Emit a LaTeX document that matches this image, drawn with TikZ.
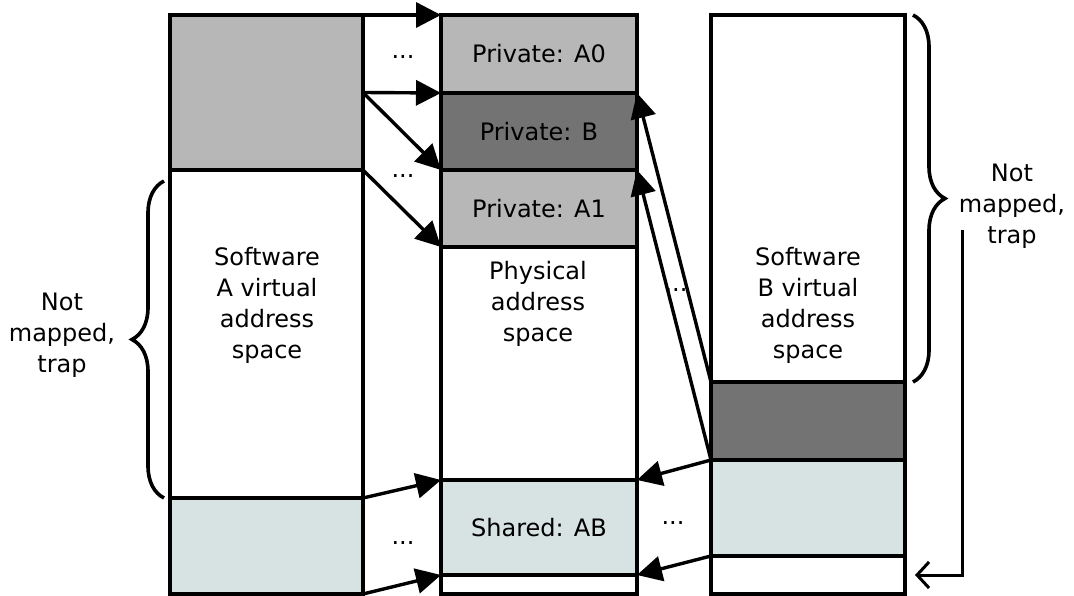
\documentclass[tikz,border=0pt]{standalone}
\usepackage{fontspec}
\setmainfont{DejaVu Sans}
\usepackage{tikz}
\usetikzlibrary{arrows.meta,decorations.pathreplacing}
\definecolor{LG}{RGB}{183, 183, 183}
\definecolor{DG}{RGB}{115, 115, 115}
\definecolor{SB}{RGB}{215, 227, 227}

\begin{document}
\begin{tikzpicture}[x=1pt, y=-1pt, line width=3.4pt,
    blk/.style={draw, rectangle, anchor=north west, inner sep=0pt, outer sep=0pt},
    colA/.style={blk, minimum width=193pt},
    colP/.style={blk, minimum width=196pt},
    colB/.style={blk, minimum width=194pt},
    lbl/.style={align=center, font=\fontsize{24}{31}\selectfont},
    arr/.style={-{Triangle[length=25pt, width=25pt]}},
    curly/.style={decorate, decoration={brace, amplitude=32pt}, line width=3.6pt},
    trap/.style={-{Straight Barb[length=12pt, width=26pt]}, line width=3pt}]
	\useasboundingbox (0,0) rectangle (1074,596);

	%Espacio virtual A
	\node[colA, fill=LG, minimum height=155pt] (agray) at (170,15) {};
	\node[colA, minimum height=328pt] (avirt) at (170,170) {};
	\node[colA, fill=SB, minimum height=96pt] (ashared) at (170,498) {};
	\node[lbl] (atext) at (267,305) {Software\\A virtual\\address\\space};

	%Espacio fisico
	\node[colP, fill=LG, minimum height=78pt] (pa0) at (441,15) {};
	\node[colP, fill=DG, minimum height=77pt] (pb) at (441,93) {};
	\node[colP, fill=LG, minimum height=77pt] (pa1) at (441,170) {};
	\node[colP, minimum height=233pt] (pphys) at (441,247) {};
	\node[colP, fill=SB, minimum height=95pt] (pshared) at (441,480) {};
	\node[colP, minimum height=19pt] (pfree) at (441,575) {};
	\node[lbl] at (pa0.center) {Private: A0};
	\node[lbl] at (pb.center) {Private: B};
	\node[lbl] at (pa1.center) {Private: A1};
	\node[lbl] at (pshared.center) {Shared: AB};
	\node[lbl] (ptext) at (538,304) {Physical\\address\\space};

	%Espacio virtual B
	\node[colB, minimum height=367pt] (bvirt) at (711,15) {};
	\node[colB, fill=DG, minimum height=78pt] (bpriv) at (711,382) {};
	\node[colB, fill=SB, minimum height=96pt] (bshared) at (711,460) {};
	\node[colB, minimum height=38pt] (bfree) at (711,556) {};
	\node[lbl] (btext) at (808,305) {Software\\B virtual\\address\\space};

	%Flechas de A
	\draw[arr] (agray.north east) -- (pa0.north west);
	\draw[arr] (agray.east) -- (pb.north west);
	\draw[arr] (agray.east) -- (pa1.north west);
	\draw[arr] (agray.south east) -- (pphys.north west);
	\draw[arr] (ashared.north east) -- (pshared.north west);
	\draw[arr] (ashared.south east) -- (pfree.north west);

	%Flechas de B
	\draw[arr] (bpriv.north west) -- (pb.north east);
	\draw[arr] (bpriv.south west) -- (pa1.north east);
	\draw[arr] (bshared.north west) -- (pshared.north east);
	\draw[arr] (bshared.south west) -- (pfree.north east);

	%Puntos
	\node[lbl] (d1) at (403,57) {...};
	\node[lbl] (d2) at (403,176) {...};
	\node[lbl] (d3) at (403,543) {...};
	\node[lbl] (d4) at (676,290) {...};
	\node[lbl] (d5) at (673,523) {...};

	%Llaves
	\coordinate (lb1) at (164,498);
	\coordinate (lb2) at (164,181);
	\draw[curly] (lb1) -- (lb2);
	\node[lbl] (ltrap) at (62,335) {Not\\mapped,\\trap};

	\coordinate (rb1) at (913,15);
	\coordinate (rb2) at (913,382);
	\draw[curly] (rb1) -- (rb2);
	\node[lbl] (rtrap) at (1012,206) {Not\\mapped,\\trap};

	\coordinate (trapstart) at (962,230);
	\draw[trap, shorten >=10pt] (trapstart) |- (bfree.east);
\end{tikzpicture}
\end{document}
